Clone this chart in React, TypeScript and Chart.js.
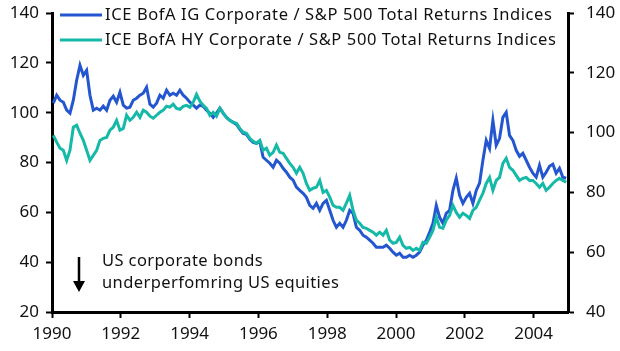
import React, { useEffect, useRef } from "react";
import { Chart, registerables } from "chart.js";

Chart.register(...registerables);

const igLabel = "ICE BofA IG Corporate / S&P 500 Total Returns Indices";
const hyLabel = "ICE BofA HY Corporate / S&P 500 Total Returns Indices";
const noteLines = ["US corporate bonds", "underperfomring US equities"];

const xTickValues = [1990, 1992, 1994, 1996, 1998, 2000, 2002, 2004];
const leftTicks = [20, 40, 60, 80, 100, 120, 140];
const rightTicks = [40, 60, 80, 100, 120, 140];

const startYear = 1990.039;
const stepYear = 0.0968;

// IG corporate / S&P 500 (left axis)
const igValues = [
  103.8, 107.0, 105.0, 104.2, 101.0, 99.8, 105.0, 113.0, 119.0, 115.0,
  117.0, 107.0, 101.0, 101.8, 101.0, 102.6, 101.0, 105.0, 106.6, 104.2,
  108.2, 103.0, 101.8, 102.2, 105.0, 105.8, 107.0, 107.8, 110.2, 103.4,
  102.2, 103.8, 107.0, 105.8, 109.0, 107.0, 107.8, 107.0, 109.0, 107.0,
  105.8, 104.2, 103.0, 101.8, 103.0, 102.6, 101.0, 99.8, 98.1, 99.8,
  101.8, 99.8, 98.1, 96.9, 96.1, 95.3, 93.3, 91.7, 91.3, 89.3,
  88.1, 87.7, 88.5, 82.1, 80.9, 79.7, 78.1, 80.9, 79.7, 77.7,
  76.1, 74.1, 72.9, 70.1, 68.8, 67.6, 66.0, 62.8, 61.6, 63.6,
  60.8, 63.6, 64.8, 60.8, 56.8, 54.0, 55.6, 54.0, 56.8, 60.8,
  59.6, 54.0, 52.8, 50.8, 50.0, 48.8, 47.6, 46.0, 46.0, 46.0,
  46.8, 45.6, 44.0, 42.8, 43.6, 42.0, 42.0, 42.8, 42.0, 42.8,
  44.0, 46.8, 48.8, 52.0, 55.6, 62.8, 58.0, 55.6, 59.6, 60.8,
  68.8, 73.7, 66.8, 63.6, 66.0, 67.6, 63.6, 68.8, 71.7, 80.9,
  88.9, 85.7, 96.9, 86.9, 89.7, 98.1, 100.1, 90.9, 88.9, 84.9,
  82.5, 83.7, 80.9, 78.1, 75.7, 74.1, 78.9, 74.1, 76.1, 78.5,
  79.3, 75.7, 77.7, 74.1, 73.7
];

// HY corporate / S&P 500 (right axis)
const hyValues = [
  99.1, 96.8, 94.8, 94.1, 90.7, 94.1, 101.8, 102.5, 99.8, 97.4,
  94.1, 90.7, 92.4, 94.1, 97.4, 98.1, 98.4, 100.8, 101.8, 104.1,
  100.8, 101.4, 105.8, 104.1, 105.1, 106.8, 105.1, 107.5, 106.8, 105.5,
  104.8, 105.8, 106.8, 107.5, 108.8, 108.5, 109.5, 108.1, 107.8, 108.8,
  109.1, 108.5, 110.1, 112.8, 110.5, 109.1, 108.1, 105.8, 106.8, 105.5,
  108.1, 106.5, 105.1, 104.1, 103.4, 103.1, 101.4, 100.1, 99.8, 98.1,
  97.1, 96.4, 97.4, 94.1, 94.8, 92.4, 93.4, 95.8, 93.4, 93.1,
  91.4, 89.7, 88.4, 86.4, 88.4, 86.4, 83.0, 80.7, 81.4, 81.7,
  84.0, 80.0, 80.7, 78.4, 75.7, 75.0, 75.0, 74.0, 76.4, 79.0,
  74.0, 70.7, 69.7, 68.3, 68.0, 67.3, 66.7, 65.7, 66.7, 65.7,
  67.3, 64.0, 63.0, 63.3, 65.0, 62.3, 61.3, 61.6, 60.6, 61.3,
  60.6, 63.3, 63.0, 65.0, 67.3, 71.7, 68.3, 68.0, 70.7, 72.3,
  75.7, 73.3, 71.7, 73.0, 72.3, 71.3, 74.0, 75.0, 77.4, 79.7,
  83.0, 85.0, 80.7, 84.0, 85.0, 89.7, 91.4, 88.4, 87.4, 85.7,
  84.0, 84.7, 85.0, 84.0, 84.0, 83.0, 81.7, 83.0, 80.7, 81.7,
  83.0, 84.0, 84.7, 84.0, 83.4
];

const IG_COLOR = "#2356cf";
const HY_COLOR = "#14b9a7";
const FONT_FAMILY = "'Noto Sans', 'Open Sans', sans-serif";
const TEXT_COLOR = "#111";

const overlayPlugin = {
  id: "overlay",
  afterDraw(chart: any) {
    const ctx = chart.ctx as any;
    const area = chart.chartArea;
    ctx.save();
    const items = [
      { label: igLabel, color: IG_COLOR },
      { label: hyLabel, color: HY_COLOR },
    ];
    ctx.font = `16.5px ${FONT_FAMILY}`;
    ctx.textBaseline = "middle";
    ctx.textAlign = "left";
    ctx.letterSpacing = "0.6px";
    items.forEach((it, i) => {
      const cy = area.top + 2 + i * 25;
      ctx.strokeStyle = it.color;
      ctx.lineWidth = 3;
      ctx.beginPath();
      ctx.moveTo(area.left + 8, cy);
      ctx.lineTo(area.left + 50, cy);
      ctx.stroke();
      ctx.fillStyle = TEXT_COLOR;
      ctx.fillText(it.label, area.left + 53, cy);
    });
    // annotation
    const ax = area.left + 27;
    const top = area.top + 244;
    ctx.strokeStyle = "#000";
    ctx.fillStyle = "#000";
    ctx.lineWidth = 2.5;
    ctx.beginPath();
    ctx.moveTo(ax, top);
    ctx.lineTo(ax, top + 26);
    ctx.stroke();
    ctx.beginPath();
    ctx.moveTo(ax - 6, top + 24);
    ctx.lineTo(ax + 6, top + 24);
    ctx.lineTo(ax, top + 35);
    ctx.closePath();
    ctx.fill();
    ctx.fillStyle = TEXT_COLOR;
    ctx.letterSpacing = "0.4px";
    noteLines.forEach((t, i) => {
      ctx.fillText(t, area.left + 50, area.top + 248 + i * 22);
    });
    ctx.restore();
  },
};

export default function App() {
  const ref = useRef<HTMLCanvasElement | null>(null);
  useEffect(() => {
    document.body.style.margin = "0";
    const canvas = ref.current;
    if (!canvas) return;
    const years = igValues.map((_, i) => startYear + i * stepYear);
    const tickFont = { family: FONT_FAMILY, size: 17 };
    const chart = new Chart(canvas, {
      type: "line",
      data: {
        datasets: [
          {
            label: igLabel,
            data: years.map((x, i) => ({ x, y: igValues[i] })),
            yAxisID: "y",
            borderColor: IG_COLOR,
            borderWidth: 3,
            pointRadius: 0,
            tension: 0,
            order: 1,
          },
          {
            label: hyLabel,
            data: years.map((x, i) => ({ x, y: hyValues[i] })),
            yAxisID: "y1",
            borderColor: HY_COLOR,
            borderWidth: 3,
            pointRadius: 0,
            tension: 0,
            order: 0,
          },
        ],
      },
      options: {
        animation: false,
        responsive: false,
        maintainAspectRatio: false,
        layout: { padding: { top: 13, left: 0, right: 0, bottom: 0 } },
        plugins: { legend: { display: false }, tooltip: { enabled: false } },
        scales: {
          x: {
            type: "linear",
            min: 1990,
            max: 2005,
            afterBuildTicks: (s: any) => {
              s.ticks = xTickValues.map((v) => ({ value: v }));
            },
            afterFit: (s: any) => {
              s.height = 39;
              s.paddingLeft = 0;
              s.paddingRight = 0;
            },
            ticks: {
              autoSkip: false,
              maxRotation: 0,
              font: tickFont,
              color: TEXT_COLOR,
              padding: 6,
              callback: (v: any) => String(v),
            },
            grid: {
              display: true,
              drawOnChartArea: false,
              drawTicks: true,
              tickLength: 6,
              tickWidth: 2,
              tickColor: "#000",
              color: "#000",
            },
            border: { display: true, width: 3, color: "#000" },
          },
          y: {
            type: "linear",
            position: "left",
            min: 20,
            max: 140,
            afterBuildTicks: (s: any) => {
              s.ticks = leftTicks.map((v) => ({ value: v }));
            },
            afterFit: (s: any) => {
              s.width = 52;
              s.paddingTop = 0;
              s.paddingBottom = 0;
            },
            ticks: { font: tickFont, color: TEXT_COLOR, padding: 7 },
            grid: {
              display: true,
              drawOnChartArea: false,
              drawTicks: true,
              tickLength: 6,
              tickWidth: 2,
              tickColor: "#000",
            },
            border: { display: true, width: 3, color: "#000" },
          },
          y1: {
            type: "linear",
            position: "right",
            min: 40,
            max: 140,
            afterBuildTicks: (s: any) => {
              s.ticks = rightTicks.map((v) => ({ value: v }));
            },
            afterFit: (s: any) => {
              s.width = 52;
              s.paddingTop = 0;
              s.paddingBottom = 0;
            },
            ticks: { font: tickFont, color: TEXT_COLOR, padding: 12 },
            grid: {
              display: true,
              drawOnChartArea: false,
              drawTicks: true,
              tickLength: 6,
              tickWidth: 2,
              tickColor: "#000",
            },
            border: { display: true, width: 3, color: "#000" },
          },
        },
      },
      plugins: [overlayPlugin],
    });
    return () => chart.destroy();
  }, []);
  return (
    <canvas
      ref={ref}
      width={620}
      height={351}
      style={{ display: "block", width: 620, height: 351 }}
    />
  );
}
